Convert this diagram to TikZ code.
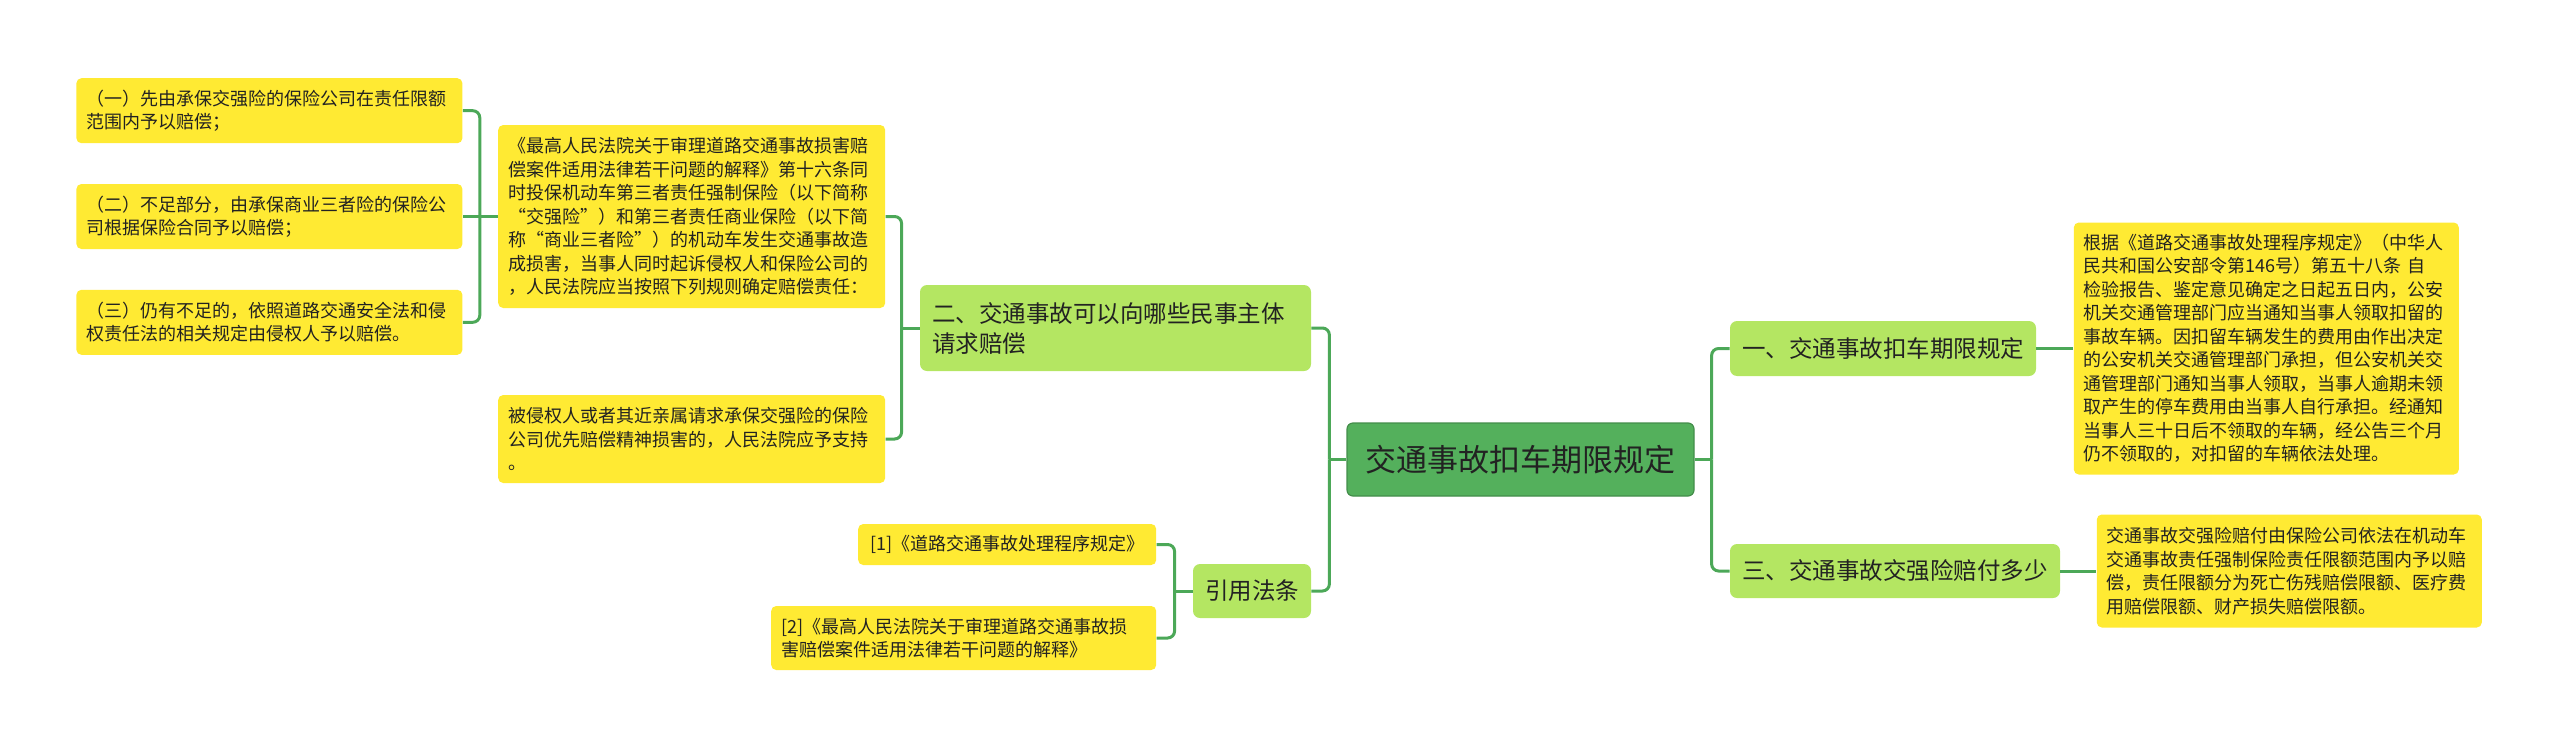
\documentclass[tikz,border=0pt]{standalone}
\usepackage{fontspec}
\usepackage{xcolor}
\usepackage{tikz}
\usetikzlibrary{positioning}
\newfontfamily\cjk{Noto Sans CJK SC}
\definecolor{rootgreen}{RGB}{84,176,92}
\definecolor{subgreen}{RGB}{180,230,98}
\definecolor{leafyellow}{RGB}{255,234,51}
\definecolor{linkgreen}{RGB}{76,168,88}
\definecolor{txtgray}{RGB}{34,34,34}

\begin{document}
\begin{tikzpicture}[
    central/.style={rectangle, fill=rootgreen, draw=rootgreen!80!black, line width=0.6pt, rounded corners=3pt, minimum width=173.5pt, minimum height=36.5pt, font=\cjk\fontsize{15.5pt}{18pt}\selectfont, text=txtgray},
    topic/.style={rectangle, fill=subgreen, rounded corners=3.5pt, minimum height=27pt, inner xsep=6pt, font=\cjk\fontsize{11.75pt}{15pt}\selectfont, text=txtgray},
    leaf/.style={rectangle, fill=leafyellow, rounded corners=2.5pt, inner xsep=5pt, inner ysep=3pt, align=left, font=\cjk\fontsize{9pt}{11.75pt}\selectfont, text=txtgray},
    link/.style={draw=linkgreen, line width=1.5pt, rounded corners=3.5pt},
]
\useasboundingbox (0,0) rectangle (1280pt,-375pt);

\node[central] (central) at (760.25pt,-229.75pt) {交通事故扣车期限规定};

\node[topic, minimum width=153pt, minimum height=27.5pt, right=17.5pt of central, yshift=55.5pt] (t1) {一、交通事故扣车期限规定};
\node[topic, minimum width=165pt, right=17.5pt of central, yshift=-55.75pt] (t3) {三、交通事故交强险赔付多少};
\node[topic, text width=183.5pt, align=left, minimum height=43pt, left=17.5pt of central, yshift=65.75pt] (t2) {二、交通事故可以向哪些民事主体\\请求赔偿};
\node[topic, minimum width=58.5pt, left=17.5pt of central, yshift=-65.75pt] (t4) {引用法条};

\node[leaf, text width=182.5pt, minimum height=126pt, right=18.5pt of t1] (r1) {根据《道路交通事故处理程序规定》（中华人\\民共和国公安部令第146号）第五十八条 自\\检验报告、鉴定意见确定之日起五日内，公安\\机关交通管理部门应当通知当事人领取扣留的\\事故车辆。因扣留车辆发生的费用由作出决定\\的公安机关交通管理部门承担，但公安机关交\\通管理部门通知当事人领取，当事人逾期未领\\取产生的停车费用由当事人自行承担。经通知\\当事人三十日后不领取的车辆，经公告三个月\\仍不领取的，对扣留的车辆依法处理。};
\node[leaf, text width=182.5pt, minimum height=56.5pt, right=18pt of t3] (r2) {交通事故交强险赔付由保险公司依法在机动车\\交通事故责任强制保险责任限额范围内予以赔\\偿，责任限额分为死亡伤残赔偿限额、医疗费\\用赔偿限额、财产损失赔偿限额。};

\node[leaf, text width=183.5pt, minimum height=91.5pt, left=17pt of t2, yshift=55.75pt] (law) {《最高人民法院关于审理道路交通事故损害赔\\偿案件适用法律若干问题的解释》第十六条同\\时投保机动车第三者责任强制保险（以下简称\\“交强险”）和第三者责任商业保险（以下简\\称“商业三者险”）的机动车发生交通事故造\\成损害，当事人同时起诉侵权人和保险公司的\\，人民法院应当按照下列规则确定赔偿责任：};
\node[leaf, text width=183.5pt, minimum height=44pt, left=17pt of t2, yshift=-55.5pt] (claim) {被侵权人或者其近亲属请求承保交强险的保险\\公司优先赔偿精神损害的，人民法院应予支持\\。};

\node[leaf, text width=183pt, minimum height=32.5pt, left=17.5pt of law] (rule2) {（二）不足部分，由承保商业三者险的保险公\\司根据保险合同予以赔偿；};
\node[leaf, text width=183pt, minimum height=32.5pt, above=20pt of rule2] (rule1) {（一）先由承保交强险的保险公司在责任限额\\范围内予以赔偿；};
\node[leaf, text width=183pt, minimum height=32.5pt, below=20pt of rule2] (rule3) {（三）仍有不足的，依照道路交通安全法和侵\\权责任法的相关规定由侵权人予以赔偿。};

\node[leaf, inner xsep=2pt, minimum width=149pt, minimum height=20.5pt, left=18pt of t4, yshift=23.25pt] (ref1) {[1]《道路交通事故处理程序规定》};
\node[leaf, text width=182.5pt, minimum height=32pt, left=18pt of t4, yshift=-23.5pt] (ref2) {[2]《最高人民法院关于审理道路交通事故损\\害赔偿案件适用法律若干问题的解释》};

\coordinate[right=8.5pt of central] (jr);
\coordinate[left=8.5pt of central] (jl);
\coordinate[left=9pt of t2] (j2);
\coordinate[left=9pt of law] (jb);
\coordinate[left=9pt of t4] (j4);

\draw[link] (central.east) -- (jr);
\draw[link] (jr) |- (t1.west);
\draw[link] (jr) |- (t3.west);
\draw[link] (t1.east) -- (r1.west);
\draw[link] (t3.east) -- (r2.west);

\draw[link] (central.west) -- (jl);
\draw[link] (jl) |- (t2.east);
\draw[link] (jl) |- (t4.east);

\draw[link] (t2.west) -- (j2);
\draw[link] (j2) |- (law.east);
\draw[link] (j2) |- (claim.east);

\draw[link] (law.west) -- (rule2.east);
\draw[link] (jb) |- (rule1.east);
\draw[link] (jb) |- (rule3.east);

\draw[link] (t4.west) -- (j4);
\draw[link] (j4) |- (ref1.east);
\draw[link] (j4) |- (ref2.east);

\end{tikzpicture}
\end{document}
